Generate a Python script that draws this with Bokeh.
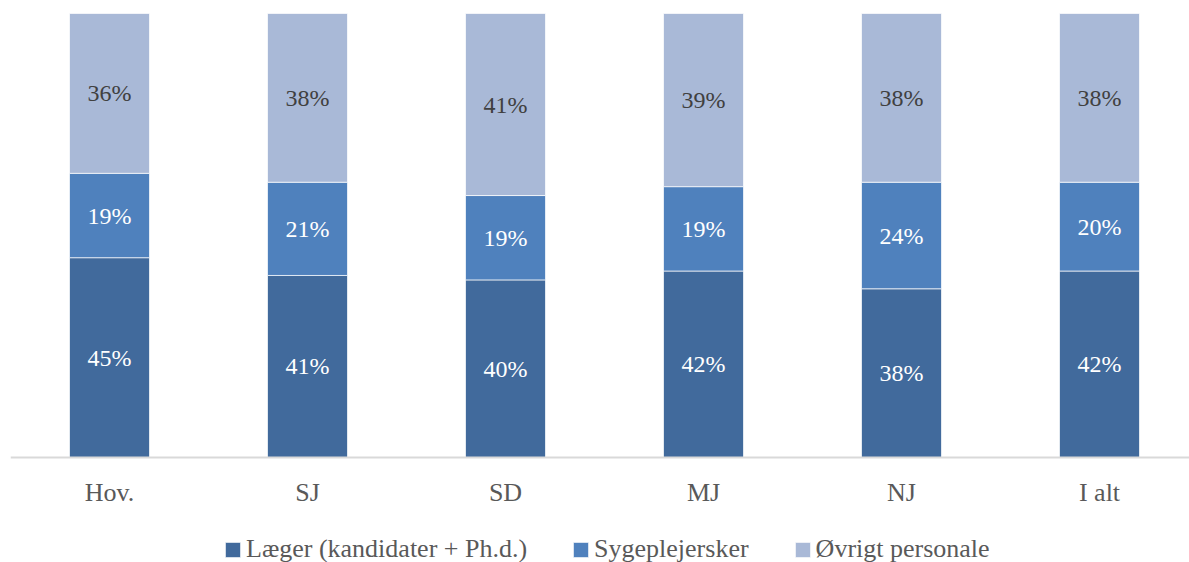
from bokeh.plotting import figure
from bokeh.models import ColumnDataSource, Range1d, Legend, LegendItem, Span
from bokeh.core.properties import value
from bokeh.embed import file_html
from bokeh.resources import INLINE

categories = ["Hov.", "SJ", "SD", "MJ", "NJ", "I alt"]
laeger = [45, 41, 40, 42, 38, 42]
sygeplejersker = [19, 21, 19, 19, 24, 20]
oevrigt = [36, 38, 41, 39, 38, 38]
series_names = ["Læger (kandidater + Ph.d.)", "Sygeplejersker", "Øvrigt personale"]
colors = ["#416a9c", "#4f81bd", "#a9b9d7"]
label_colors = ["#ffffff", "#ffffff", "#404040"]

FONT = "Liberation Serif"
x = list(range(len(categories)))

# layout (pixels)
W, H = 1189, 562
LEFT, TOP = 10, 13
CAT_STEP = 198          # px per category
PLOT_H = 444            # px for 0..100 %
frame_w = W - LEFT
frame_h = H - TOP
px_per_unit = PLOT_H / 100
y_start = 100 - frame_h / px_per_unit

src = ColumnDataSource(dict(x=x, s0=laeger, s1=sygeplejersker, s2=oevrigt))

p = figure(width=W, height=H, output_backend="svg", toolbar_location=None,
           x_range=Range1d(-0.5, -0.5 + frame_w / CAT_STEP), y_range=Range1d(y_start, 100),
           x_axis_location=None, y_axis_location=None,
           min_border_left=LEFT, min_border_right=0, min_border_top=TOP, min_border_bottom=0)
p.outline_line_color = None
p.xgrid.visible = False
p.ygrid.visible = False
p.background_fill_color = "white"
p.border_fill_color = "white"

renderers = p.vbar_stack(["s0", "s1", "s2"], x="x", width=80 / CAT_STEP, source=src,
                         color=colors, line_color="white", line_alpha=0.7, line_width=1)

# baseline (category axis line)
p.add_layout(Span(location=0, dimension="width", line_color="#d9d9d9", line_width=2))

# category labels
csrc = ColumnDataSource(dict(x=x, y=[0] * len(x), t=categories))
p.text(x="x", y="y", text="t", source=csrc, y_offset=35, text_color="#595959",
       text_align="center", text_baseline="middle", text_font=value(FONT),
       text_font_size="26px")

# value labels
series = [laeger, sygeplejersker, oevrigt]
lx, ly, lt, lc = [], [], [], []
for i in range(len(categories)):
    base = 0
    for s, col in zip(series, label_colors):
        v = s[i]
        lx.append(i)
        ly.append(base + v / 2)
        lt.append(f"{v}%")
        lc.append(col)
        base += v
lsrc = ColumnDataSource(dict(x=lx, y=ly, t=lt, c=lc))
p.text(x="x", y="y", text="t", source=lsrc, text_color="c", text_align="center",
       text_baseline="middle", text_font=value(FONT), text_font_size="24px")

legend = Legend(items=[LegendItem(label=n, renderers=[r]) for n, r in zip(series_names, renderers)],
                orientation="horizontal", location=(213, -2),
                glyph_width=19, glyph_height=19, label_standoff=4, spacing=44,
                padding=0, margin=0, border_line_color=None, background_fill_alpha=0,
                label_text_font=FONT, label_text_font_size="26px",
                label_text_color="#595959", label_height=19)
p.add_layout(legend, "center")

open("out.html", "w").write(file_html(p, INLINE))
